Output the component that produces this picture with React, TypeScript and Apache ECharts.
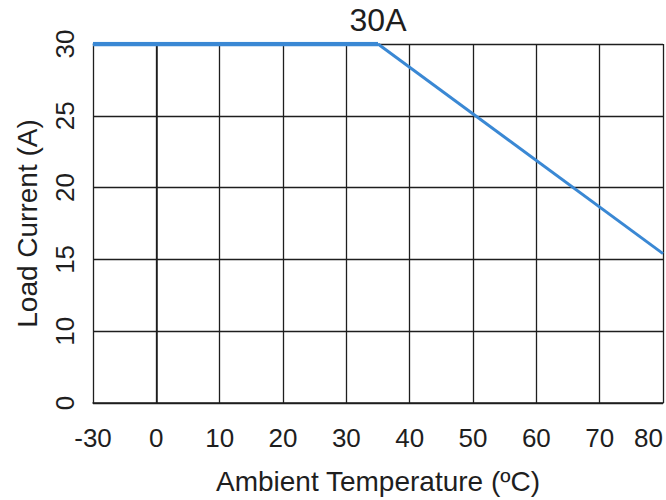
import React, { useEffect, useRef } from "react";
import * as echarts from "echarts";

// Derating curve: ambient temperature (°C) vs load current (A)
const tempC = [-30, 35, 80];
const loadA = [30, 30, 15.4];
const kneeLabel = "30A";

// Axis tick values as printed (the axes are broken: -30..0 and 0..10 are compressed)
const xTickLabels = ["-30", "0", "10", "20", "30", "40", "50", "60", "70", "80"];
const yTickLabels = ["0", "10", "15", "20", "25", "30"];

const xName = "Ambient Temperature (ºC)";
const yName = "Load Current (A)";

// broken-axis mapping: real value -> axis position
const toAxisX = (t: number) => (t < 0 ? t / 3 : t);
const fromAxisX = (v: number) => (v < 0 ? v * 3 : v);
const toAxisY = (a: number) => (a < 10 ? 5 + a / 2 : a);
const fromAxisY = (v: number) => (v < 10 ? (v - 5) * 2 : v);

export default function App() {
  const ref = useRef<HTMLDivElement>(null);
  useEffect(() => {
    if (!ref.current) return;
    const chart = echarts.init(ref.current, undefined, { renderer: "svg" });
    const font = "'Liberation Sans', Arial, sans-serif";
    const ink = "#1e1e1e";
    const blue = "#3a88d4";
    const pts = tempC.map((t, i) => [toAxisX(t), toAxisY(loadA[i])]);
    const kneeIdx = 1;
    const flat = pts.slice(0, kneeIdx + 1).map((p, i) =>
      i === kneeIdx
        ? {
            value: p,
            label: {
              show: true,
              formatter: kneeLabel,
              position: "top",
              distance: 8,
              fontSize: 32,
              color: ink,
              fontFamily: font,
            },
          }
        : { value: p }
    );
    const slope = pts.slice(kneeIdx);
    const xMinAx = toAxisX(Number(xTickLabels[0]));
    const xMaxAx = toAxisX(Number(xTickLabels[xTickLabels.length - 1]));
    const yMinAx = toAxisY(Number(yTickLabels[0]));
    const yMaxAx = toAxisY(Number(yTickLabels[yTickLabels.length - 1]));
    chart.setOption({
      animation: false,
      backgroundColor: "#ffffff",
      grid: { left: 93, right: 3, top: 44, bottom: 96, containLabel: false },
      xAxis: {
        type: "value",
        min: xMinAx,
        max: xMaxAx,
        interval: 10,
        axisLine: { show: true, lineStyle: { color: ink, width: 1.5 } },
        axisTick: { show: false },
        splitLine: { show: true, lineStyle: { color: ink, width: 1.3 } },
        axisLabel: {
          fontSize: 26,
          color: ink,
          fontFamily: font,
          margin: 22,
          alignMaxLabel: "right",
          formatter: (v: number) => String(fromAxisX(v)),
        },
        name: xName,
        nameLocation: "middle",
        nameGap: 64,
        nameTextStyle: { fontSize: 28, color: ink, fontFamily: font },
      },
      yAxis: {
        type: "value",
        min: yMinAx,
        max: yMaxAx,
        interval: 5,
        axisLine: { show: true, lineStyle: { color: ink, width: 1.5 } },
        axisTick: { show: false },
        splitLine: { show: true, lineStyle: { color: ink, width: 1.3 } },
        axisLabel: {
          fontSize: 26,
          color: ink,
          fontFamily: font,
          rotate: 90,
          margin: 15,
          formatter: (v: number) => String(fromAxisY(v)),
        },
        name: yName,
        nameLocation: "middle",
        nameGap: 52,
        nameTextStyle: { fontSize: 28, color: ink, fontFamily: font },
      },
      series: [
        {
          type: "line",
          data: flat,
          symbol: "circle",
          symbolSize: 1,
          showSymbol: true,
          itemStyle: { color: blue },
          lineStyle: { color: blue, width: 4.5 },
          z: 5,
        },
        {
          type: "line",
          data: slope,
          symbol: "none",
          lineStyle: { color: blue, width: 3 },
          z: 5,
        },
      ],
    });
    return () => chart.dispose();
  }, []);
  return (
    <div
      ref={ref}
      style={{ position: "absolute", left: 0, top: 0, width: 666, height: 500 }}
    />
  );
}
